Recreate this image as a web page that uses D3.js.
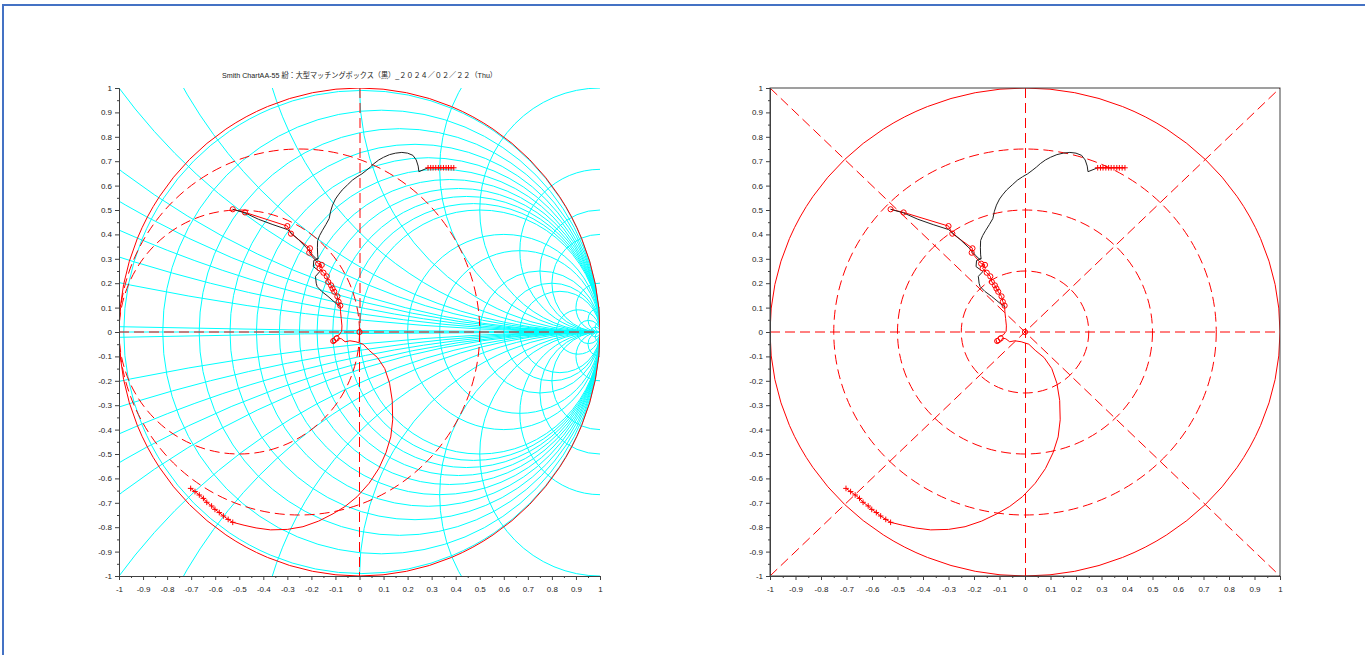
<!DOCTYPE html>
<html>
<head>
<meta charset="utf-8">
<script src="https://cdn.jsdelivr.net/npm/d3@7"></script>
<style>
  body { margin: 0; background: #fff; }
  svg { display: block; }
  text { font-family: "Liberation Sans", Arial, sans-serif; }
</style>
</head>
<body>
<svg id="chart" width="1365" height="655"></svg>
<script>
//---------------- data ----------------
var tickVals = d3.range(-10, 11).map(function(d) { return d / 10; });
var tickLabels = ["-1","-0.9","-0.8","-0.7","-0.6","-0.5","-0.4","-0.3","-0.2","-0.1","0",
                  "0.1","0.2","0.3","0.4","0.5","0.6","0.7","0.8","0.9","1"];
var minorVals = d3.range(-19, 20, 2).map(function(d) { return d / 20; });

// smith grid (cyan)
var rVals = [0.01, 0.1, 0.2, 0.3, 0.4, 0.5, 0.6, 0.7, 0.8, 0.9, 1, 1.5, 2, 3, 4, 5, 10, 20, 50];
var xVals = [0.01, 0.1, 0.15, 0.2, 0.25, 0.3, 0.4, 0.5, 0.7, 1, 1.5, 2, 3, 4, 5, 10, 20, 50];
// dashed guide circles
var gVals = [1/3, 1];            // left chart, conductance circles
var ringVals = [0.25, 0.5, 0.75]; // right chart, |gamma| rings

var title = "Smith ChartAA-55  紛：大型マッチングボックス（黒）_２０２４／０２／２２（Thu）";

// traces [re, im]
var blackUpper = [[0.285,0.673],[0.247,0.657],[0.244,0.680],[0.236,0.705],[0.222,0.724],[0.200,0.733],
  [0.176,0.736],[0.150,0.733],[0.125,0.727],[0.100,0.716],[0.080,0.705],[0.060,0.690],[0.045,0.676],
  [0.028,0.662],[0.010,0.648],[-0.010,0.636],[-0.030,0.622],[-0.050,0.603],[-0.072,0.582],[-0.088,0.562],
  [-0.100,0.545],[-0.112,0.520],[-0.120,0.495],[-0.126,0.465],[-0.140,0.440],[-0.155,0.415],[-0.166,0.395],
  [-0.174,0.375],[-0.175,0.345],[-0.174,0.316],[-0.172,0.300],[-0.190,0.293],[-0.192,0.268],[-0.165,0.248],
  [-0.183,0.228],[-0.180,0.200],[-0.176,0.186],[-0.157,0.166],[-0.131,0.146],[-0.110,0.128],[-0.095,0.115],
  [-0.080,0.104]];
var blackLower = [[-0.527,0.503],[-0.476,0.488],[-0.420,0.462],[-0.360,0.440],[-0.300,0.420],[-0.255,0.380],
  [-0.220,0.345],[-0.195,0.315],[-0.180,0.300],[-0.172,0.300]];
var redPath = [[-0.527,0.503],[-0.476,0.490],[-0.300,0.434],[-0.285,0.403],[-0.206,0.343],[-0.209,0.325],
  [-0.172,0.280],[-0.157,0.275],[-0.166,0.261],[-0.150,0.243],[-0.136,0.228],[-0.130,0.205],[-0.118,0.191],
  [-0.112,0.178],[-0.105,0.165],[-0.092,0.146],[-0.087,0.124],[-0.080,0.108],[-0.079,0.085],[-0.076,0.055],
  [-0.073,0.025],[-0.074,0.003],[-0.085,-0.012],[-0.100,-0.018],[-0.114,-0.030],[-0.110,-0.045],[-0.095,-0.040],
  [-0.088,-0.025],[-0.075,-0.028],[-0.060,-0.040],[-0.040,-0.036],[-0.015,-0.040],[0.015,-0.050],[0.040,-0.075],
  [0.075,-0.105],[0.105,-0.150],[0.125,-0.210],[0.136,-0.280],[0.138,-0.360],[0.130,-0.430],[0.110,-0.495],
  [0.080,-0.560],[0.040,-0.620],[-0.010,-0.675],[-0.060,-0.715],[-0.110,-0.745],[-0.170,-0.775],[-0.235,-0.798],
  [-0.300,-0.809],[-0.370,-0.811],[-0.430,-0.803],[-0.480,-0.792],[-0.527,-0.780]];
var redCircles = [[-0.527,0.503],[-0.476,0.490],[-0.300,0.434],[-0.285,0.403],[-0.206,0.343],[-0.209,0.325],
  [-0.172,0.280],[-0.157,0.275],[-0.166,0.261],[-0.150,0.243],[-0.136,0.228],[-0.130,0.205],[-0.118,0.191],
  [-0.112,0.178],[-0.105,0.165],[-0.092,0.146],[-0.087,0.124],[-0.080,0.108],[-0.109,-0.037],[-0.095,-0.026],[0,0]];
var plusUpper = [[0.285,0.673],[0.296,0.673],[0.306,0.673],[0.317,0.673],[0.328,0.673],[0.338,0.673],
  [0.349,0.673],[0.360,0.673],[0.370,0.673],[0.381,0.673],[0.392,0.673]];
var plusLower = [[-0.527,-0.780],[-0.546,-0.768],[-0.566,-0.754],[-0.583,-0.740],[-0.601,-0.727],[-0.615,-0.713],
  [-0.635,-0.698],[-0.649,-0.682],[-0.666,-0.668],[-0.684,-0.654],[-0.702,-0.641]];

//---------------- setup ----------------
var svg = d3.select("#chart");
var RED = "#ff0000", CYAN = "#00ffff", AX = "#404040";

// page frame
svg.append("rect").attr("x", 3).attr("y", 5).attr("width", 1400).attr("height", 700)
  .attr("fill", "none").attr("stroke", "#4472c4").attr("stroke-width", 2);

var y = d3.scaleLinear().domain([-1, 1]).range([576, 88]);
var xLeft = d3.scaleLinear().domain([-1, 1]).range([119, 600]);
var xRight = d3.scaleLinear().domain([-1, 1]).range([770, 1280]);

var line = function(x) {
  return d3.line().x(function(d) { return x(d[0]); }).y(function(d) { return y(d[1]); });
};

function ellipse(g, x, cx, cy, R) {
  return g.append("ellipse")
    .attr("cx", x(cx)).attr("cy", y(cy))
    .attr("rx", x(R) - x(0)).attr("ry", y(0) - y(R))
    .attr("fill", "none");
}

function clipFor(id, x) {
  svg.append("clipPath").attr("id", id).append("rect")
    .attr("x", x(-1)).attr("y", y(1))
    .attr("width", x(1) - x(-1)).attr("height", y(-1) - y(1));
}

function drawAxes(x) {
  var fmt = function(d) { return tickLabels[Math.round(d * 10) + 10]; };
  svg.append("g").attr("transform", "translate(" + x(-1) + ",0)")
    .call(d3.axisLeft(y).tickValues(tickVals).tickFormat(fmt).tickSize(4).tickSizeOuter(0).tickPadding(3));
  svg.append("g").attr("transform", "translate(" + x(-1) + ",0)")
    .call(d3.axisLeft(y).tickValues(minorVals).tickFormat("").tickSize(2).tickSizeOuter(0));
  svg.append("g").attr("transform", "translate(0," + y(-1) + ")")
    .call(d3.axisBottom(x).tickValues(tickVals).tickFormat(fmt).tickSize(4).tickSizeOuter(0).tickPadding(6));
  svg.append("g").attr("transform", "translate(0," + y(-1) + ")")
    .call(d3.axisBottom(x).tickValues(minorVals).tickFormat("").tickSize(2).tickSizeOuter(0));
  svg.selectAll(".domain, .tick line").attr("stroke", AX);
  svg.selectAll(".tick text").attr("fill", "#222").style("font-size", "8px");
}

function drawData(g, x) {
  var ln = line(x);
  g.append("path").datum(redPath.concat(plusLower)).attr("d", ln)
    .attr("fill", "none").attr("stroke", RED).attr("stroke-width", 1);
  g.append("path").datum(plusUpper).attr("d", ln)
    .attr("fill", "none").attr("stroke", RED).attr("stroke-width", 1);
  g.append("path").datum(blackUpper).attr("d", ln)
    .attr("fill", "none").attr("stroke", "#222").attr("stroke-width", 1);
  g.append("path").datum(blackLower).attr("d", ln)
    .attr("fill", "none").attr("stroke", "#222").attr("stroke-width", 1);
  g.selectAll("circle.mk").data(redCircles).enter().append("circle")
    .attr("cx", function(d) { return x(d[0]); }).attr("cy", function(d) { return y(d[1]); })
    .attr("r", 2.6).attr("fill", "none").attr("stroke", RED).attr("stroke-width", 1);
  g.selectAll("path.plus").data(plusUpper.concat(plusLower)).enter().append("path")
    .attr("d", function(d) {
      var cx = x(d[0]), cy = y(d[1]), s = 2.8;
      return "M" + (cx - s) + "," + cy + "H" + (cx + s) + "M" + cx + "," + (cy - s) + "V" + (cy + s);
    })
    .attr("stroke", RED).attr("stroke-width", 1);
}

//---------------- left chart: smith grid ----------------
clipFor("clipL", xLeft);
var gL = svg.append("g").attr("clip-path", "url(#clipL)");

// constant resistance circles
rVals.forEach(function(r) {
  ellipse(gL, xLeft, r / (1 + r), 0, 1 / (1 + r)).attr("stroke", CYAN).attr("stroke-width", 1);
});
// constant reactance circles (full circles, clipped to the box)
xVals.forEach(function(xv) {
  [1, -1].forEach(function(s) {
    ellipse(gL, xLeft, 1, s / xv, 1 / xv).attr("stroke", CYAN).attr("stroke-width", 1);
  });
});
gL.append("line").attr("x1", xLeft(-1)).attr("x2", xLeft(1)).attr("y1", y(0)).attr("y2", y(0))
  .attr("stroke", CYAN);

// red guides
ellipse(gL, xLeft, 0, 0, 1).attr("stroke", RED).attr("stroke-width", 1);
gVals.forEach(function(g) {
  ellipse(gL, xLeft, -g / (1 + g), 0, 1 / (1 + g)).attr("stroke", RED)
    .attr("stroke-dasharray", "10,5").attr("stroke-width", 1);
});
gL.append("line").attr("x1", xLeft(-1)).attr("x2", xLeft(1)).attr("y1", y(0)).attr("y2", y(0))
  .attr("stroke", RED).attr("stroke-dasharray", "10,5");
// vertical guide: upper half straddles two pixel columns, lower half is pixel-snapped
gL.append("line").attr("x1", xLeft(0) + 0.5).attr("x2", xLeft(0) + 0.5).attr("y1", y(1)).attr("y2", y(0))
  .attr("stroke", RED).attr("stroke-dasharray", "10,5");
gL.append("line").attr("x1", xLeft(0)).attr("x2", xLeft(0)).attr("y1", y(0)).attr("y2", y(-1))
  .attr("stroke", RED).attr("stroke-dasharray", "10,5");

drawData(gL, xLeft);
drawAxes(xLeft);

svg.append("text")
  .attr("x", xLeft(0)).attr("y", 78)
  .attr("text-anchor", "middle")
  .attr("textLength", 275).attr("lengthAdjust", "spacingAndGlyphs")
  .style("font-size", "7.5px").style("font-family", "'Liberation Sans','Noto Sans CJK JP',sans-serif")
  .attr("fill", "#222")
  .text(title);

//---------------- right chart: polar guides ----------------
clipFor("clipR", xRight);
var gR = svg.append("g").attr("clip-path", "url(#clipR)");

ellipse(gR, xRight, 0, 0, 1).attr("stroke", RED).attr("stroke-width", 1);
ringVals.forEach(function(rv) {
  ellipse(gR, xRight, 0, 0, rv).attr("stroke", RED).attr("stroke-dasharray", "10,5");
});
[[-1, 1, 1, -1], [-1, -1, 1, 1], [-1, 0, 1, 0]].forEach(function(s) {
  gR.append("line").attr("x1", xRight(s[0])).attr("y1", y(s[1])).attr("x2", xRight(s[2])).attr("y2", y(s[3]))
    .attr("stroke", RED).attr("stroke-dasharray", "10,5");
});
// vertical guide, snapped to a pixel column
gR.append("line").attr("x1", xRight(0) + 0.5).attr("x2", xRight(0) + 0.5).attr("y1", y(1)).attr("y2", y(-1))
  .attr("stroke", RED).attr("stroke-dasharray", "10,5");

drawData(gR, xRight);
svg.append("rect").attr("x", xRight(-1)).attr("y", y(1))
  .attr("width", xRight(1) - xRight(-1)).attr("height", y(-1) - y(1))
  .attr("fill", "none").attr("stroke", AX);
drawAxes(xRight);
</script>
</body>
</html>
